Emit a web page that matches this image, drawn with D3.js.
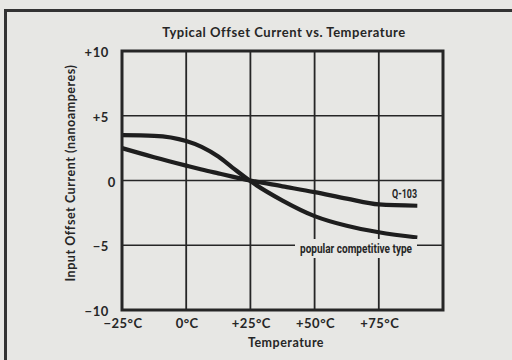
<!DOCTYPE html>
<html>
<head>
<meta charset="utf-8">
<script src="https://cdn.jsdelivr.net/npm/d3@7"></script>
<style>
  html, body { margin: 0; padding: 0; background: #e7e7e4; }
  svg { display: block; }
</style>
</head>
<body>
<svg id="chart" width="512" height="360"></svg>
<script>
// Temperature axis (°C) and offset current axis (nA)
const xTicks = [-25, 0, 25, 50, 75];
const xTickLabels = ["\u221225\u00b0C", "0\u00b0C", "+25\u00b0C", "+50\u00b0C", "+75\u00b0C"];
const yTicks = [10, 5, 0, -5, -10];
const yTickLabels = ["+10", "+5", "0", "\u22125", "\u221210"];

// Curve samples: temperature (°C) and input offset current (nA)
const tempPoints = [-25, -12.5, 0, 6, 12.5, 18, 25, 37.5, 50, 62.5, 75, 90];
const competitiveValues = [3.5, 3.45, 3.05, 2.6, 1.85, 1.0, -0.05, -1.55, -2.75, -3.5, -4.0, -4.4];
const q103Values = [2.5, 1.8, 1.15, 0.85, 0.55, 0.3, 0.0, -0.45, -0.9, -1.4, -1.85, -1.95];

const title = "Typical Offset Current vs. Temperature";
const xTitle = "Temperature";
const yTitle = "Input Offset Current (nanoamperes)";
const labelQ103 = "Q-103";
const labelCompetitive = "popular competitive type";

const ink = "#262626";
const font = "Lato, 'DejaVu Sans', sans-serif";
const narrow = "Roboto, 'Liberation Sans', sans-serif";

const svg = d3.select("#chart");

// outer frame (runs off the right and bottom edges)
svg.append("path")
  .attr("d", "M5.5,380 V10.5 H530")
  .attr("fill", "none").attr("stroke", "#333").attr("stroke-width", 3);

const plotL = 122, plotR = 443, plotT = 51, plotB = 310;
const x = d3.scaleLinear().domain([-25, 100]).range([plotL, plotR]);
const y = d3.scaleLinear().domain([-10, 10]).range([plotB, plotT]);

// title
svg.append("text")
  .attr("x", 284).attr("y", 37)
  .attr("text-anchor", "middle")
  .attr("font-family", font).attr("font-weight", "bold").attr("font-size", 13)
  .attr("letter-spacing", 0.55)
  .attr("fill", ink)
  .text(title);

// grid
const grid = svg.append("g");
grid.selectAll("line.v")
  .data([0, 25, 50, 75])
  .join("line")
  .attr("class", "v")
  .attr("x1", d => x(d)).attr("x2", d => x(d))
  .attr("y1", plotT).attr("y2", plotB)
  .attr("stroke", ink).attr("stroke-width", 1.8);
grid.selectAll("line.h")
  .data([5, 0, -5])
  .join("line")
  .attr("class", "h")
  .attr("x1", plotL).attr("x2", plotR)
  .attr("y1", d => y(d)).attr("y2", d => y(d))
  .attr("stroke", ink).attr("stroke-width", 1.6);

// curves
const line = d3.line()
  .x(d => x(d[0])).y(d => y(d[1]))
  .curve(d3.curveMonotoneX);
[competitiveValues, q103Values].forEach(vals => {
  svg.append("path")
    .datum(tempPoints.map((t, i) => [t, vals[i]]))
    .attr("d", line)
    .attr("fill", "none")
    .attr("stroke", "#1e1e1e")
    .attr("stroke-width", 4.2)
    .attr("stroke-linecap", "butt");
});

// series labels (condensed)
svg.append("text")
  .attr("x", 392).attr("y", 198)
  .attr("font-family", narrow).attr("font-weight", "bold").attr("font-size", 13)
  .attr("textLength", 25).attr("lengthAdjust", "spacingAndGlyphs")
  .attr("fill", ink)
  .text(labelQ103);

const labelBox = svg.append("rect").attr("fill", "#e7e7e4");
svg.append("text")
  .attr("x", 300).attr("y", 253)
  .attr("font-family", narrow).attr("font-weight", "bold").attr("font-size", 12.5)
  .attr("textLength", 112).attr("lengthAdjust", "spacingAndGlyphs")
  .attr("fill", ink)
  .text(labelCompetitive);
labelBox
  .attr("x", 295).attr("y", 239)
  .attr("width", 122).attr("height", 19);

// plot border
svg.append("rect")
  .attr("x", plotL).attr("y", plotT)
  .attr("width", plotR - plotL).attr("height", plotB - plotT)
  .attr("fill", "none").attr("stroke", ink).attr("stroke-width", 3);

// y tick labels
svg.selectAll("text.ytick")
  .data(yTicks)
  .join("text")
  .attr("class", "ytick")
  .attr("x", d => d === 0 ? 116 : 109)
  .attr("y", d => y(d) + 6)
  .attr("text-anchor", "end")
  .attr("font-family", font).attr("font-weight", "bold").attr("font-size", 13)
  .attr("letter-spacing", 0.6)
  .attr("fill", ink)
  .text((d, i) => yTickLabels[i]);

// x tick labels
svg.selectAll("text.xtick")
  .data(xTicks)
  .join("text")
  .attr("class", "xtick")
  .attr("x", d => x(d) + 1)
  .attr("y", 328)
  .attr("text-anchor", "middle")
  .attr("font-family", font).attr("font-weight", "bold").attr("font-size", 13)
  .attr("letter-spacing", 0.5)
  .attr("fill", ink)
  .text((d, i) => xTickLabels[i]);

// axis titles
svg.append("text")
  .attr("x", 286).attr("y", 347)
  .attr("text-anchor", "middle")
  .attr("font-family", font).attr("font-weight", "bold").attr("font-size", 12.5)
  .attr("letter-spacing", 0.5)
  .attr("fill", ink)
  .text(xTitle);

svg.append("text")
  .attr("transform", "translate(75,173) rotate(-90)")
  .attr("text-anchor", "middle")
  .attr("font-family", font).attr("font-weight", "bold").attr("font-size", 12.5)
  .attr("letter-spacing", 0.55)
  .attr("fill", ink)
  .text(yTitle);
</script>
</body>
</html>
